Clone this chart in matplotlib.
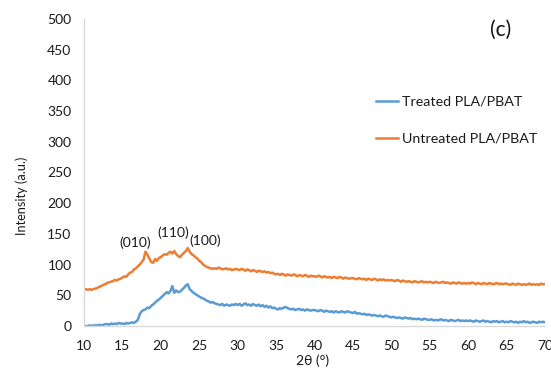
import numpy as np
import matplotlib
matplotlib.use("Agg")
import matplotlib.pyplot as plt

plt.rcParams['font.family'] = ['Lato', 'DejaVu Sans']

# 2-theta scan, 10 to 70 degrees in 0.25 degree steps
two_theta = np.arange(10, 70.001, 0.25)

untreated = [
    60, 60, 59, 60, 59, 60, 61, 62, 64, 65, 67, 68, 70, 71, 72, 73, 75, 74, 76, 77,
    79, 81, 80, 84, 87, 88, 92, 94, 97, 100, 104, 108, 121, 116, 110, 104, 103, 109, 106, 111,
    112, 115, 117, 116, 119, 121, 118, 122, 117, 114, 112, 116, 119, 122, 127, 121, 117, 115, 112, 110,
    106, 104, 100, 98, 96, 95, 94, 93, 94, 93, 95, 94, 92, 93, 94, 92, 93, 91, 92, 93,
    92, 91, 93, 92, 90, 92, 91, 89, 91, 90, 88, 90, 89, 88, 89, 87, 88, 86, 87, 85,
    84, 85, 83, 85, 84, 82, 84, 83, 82, 84, 83, 81, 83, 82, 81, 83, 82, 80, 82, 81,
    81, 80, 82, 81, 79, 81, 80, 79, 80, 78, 80, 79, 78, 80, 79, 77, 79, 78, 77, 78,
    78, 77, 76, 78, 77, 76, 77, 75, 77, 76, 75, 77, 76, 74, 76, 75, 76, 74, 75, 74,
    75, 74, 73, 75, 74, 72, 74, 73, 72, 73, 72, 71, 73, 72, 71, 72, 73, 71, 72, 71,
    72, 71, 70, 72, 71, 70, 71, 72, 70, 71, 70, 69, 71, 70, 69, 71, 70, 69, 70, 69,
    70, 69, 71, 70, 68, 70, 69, 68, 70, 69, 68, 70, 69, 68, 69, 70, 68, 69, 68, 69,
    69, 68, 67, 69, 68, 67, 69, 68, 67, 68, 67, 68, 69, 67, 68, 67, 68, 67, 69, 68,
    68,
]

treated = [
    0, 0, 0, 1, 0, 1, 1, 1, 2, 1, 2, 3, 3, 2, 4, 3, 4, 3, 5, 4,
    4, 3, 5, 4, 5, 6, 5, 7, 10, 19, 24, 26, 27, 30, 29, 33, 35, 38, 41, 43,
    46, 49, 52, 55, 53, 57, 65, 54, 58, 55, 56, 59, 62, 66, 68, 60, 57, 54, 52, 50,
    48, 46, 45, 43, 41, 40, 38, 39, 37, 36, 35, 34, 36, 33, 35, 34, 33, 35, 34, 36,
    34, 36, 33, 35, 37, 34, 35, 33, 36, 34, 33, 35, 32, 34, 31, 33, 30, 32, 29, 30,
    28, 27, 29, 28, 30, 31, 29, 28, 27, 28, 26, 27, 28, 26, 27, 25, 27, 26, 25, 26,
    26, 25, 24, 26, 25, 23, 25, 24, 23, 24, 22, 24, 23, 22, 24, 23, 22, 24, 23, 22,
    21, 23, 20, 21, 20, 19, 20, 18, 19, 18, 17, 18, 17, 16, 17, 16, 15, 17, 16, 15,
    14, 15, 14, 13, 14, 13, 12, 14, 13, 12, 13, 11, 12, 11, 12, 11, 10, 12, 11, 10,
    10, 11, 9, 10, 9, 10, 11, 9, 10, 9, 8, 10, 9, 8, 9, 10, 8, 9, 8, 9,
    8, 9, 8, 7, 9, 8, 7, 8, 9, 7, 8, 7, 6, 8, 7, 8, 6, 7, 8, 6,
    7, 6, 8, 7, 6, 7, 5, 7, 6, 8, 6, 7, 5, 6, 7, 6, 5, 7, 6, 7,
    6,
]

# peak labels: (text, x, y)
peak_labels = [("(010)", 16.7, 135), ("(110)", 21.6, 152), ("(100)", 25.8, 139)]

TXT = '#1a1a1a'
FS = 10

fig = plt.figure(figsize=(5.51, 3.76), dpi=100)
ax = fig.add_axes([0.1525, 0.133, 0.8365, 0.8165])

ax.plot(two_theta, treated, color='#5B9BD5', lw=1.8, label='Treated PLA/PBAT')
ax.plot(two_theta, untreated, color='#ED7D31', lw=1.8, label='Untreated PLA/PBAT')

for txt, x, y in peak_labels:
    ax.text(x, y, txt, ha='center', va='center', fontsize=FS, color=TXT)

ax.set_xlim(10, 70)
ax.set_ylim(0, 500)
ax.set_xticks(range(10, 71, 5))
ax.set_yticks(range(0, 501, 50))
ax.tick_params(length=0, labelsize=FS, colors=TXT)
ax.tick_params(axis='y', pad=9)
ax.tick_params(axis='x', pad=10)

for side in ['top', 'right']:
    ax.spines[side].set_visible(False)
for side in ['left', 'bottom']:
    ax.spines[side].set_color('#D9D9D9')
    ax.spines[side].set_linewidth(1)

fig.text(0.04, 0.479, 'Intensity (a.u.)', rotation=90, ha='center', va='center',
         fontsize=9.2, color=TXT)
fig.text(0.568, 0.04, '2\u03b8 (\u00b0)', ha='center', va='center',
         fontsize=FS, color=TXT)
fig.text(0.909, 0.92, '(c)', ha='center', va='center', fontsize=15, color='#111111')

ax.legend(loc='upper left', bbox_to_anchor=(0.62, 0.768), frameon=False,
          fontsize=10.3, handlelength=1.6, handletextpad=0.25, labelspacing=1.75,
          borderaxespad=0, labelcolor=TXT)

fig.savefig('out.png', dpi=100)
